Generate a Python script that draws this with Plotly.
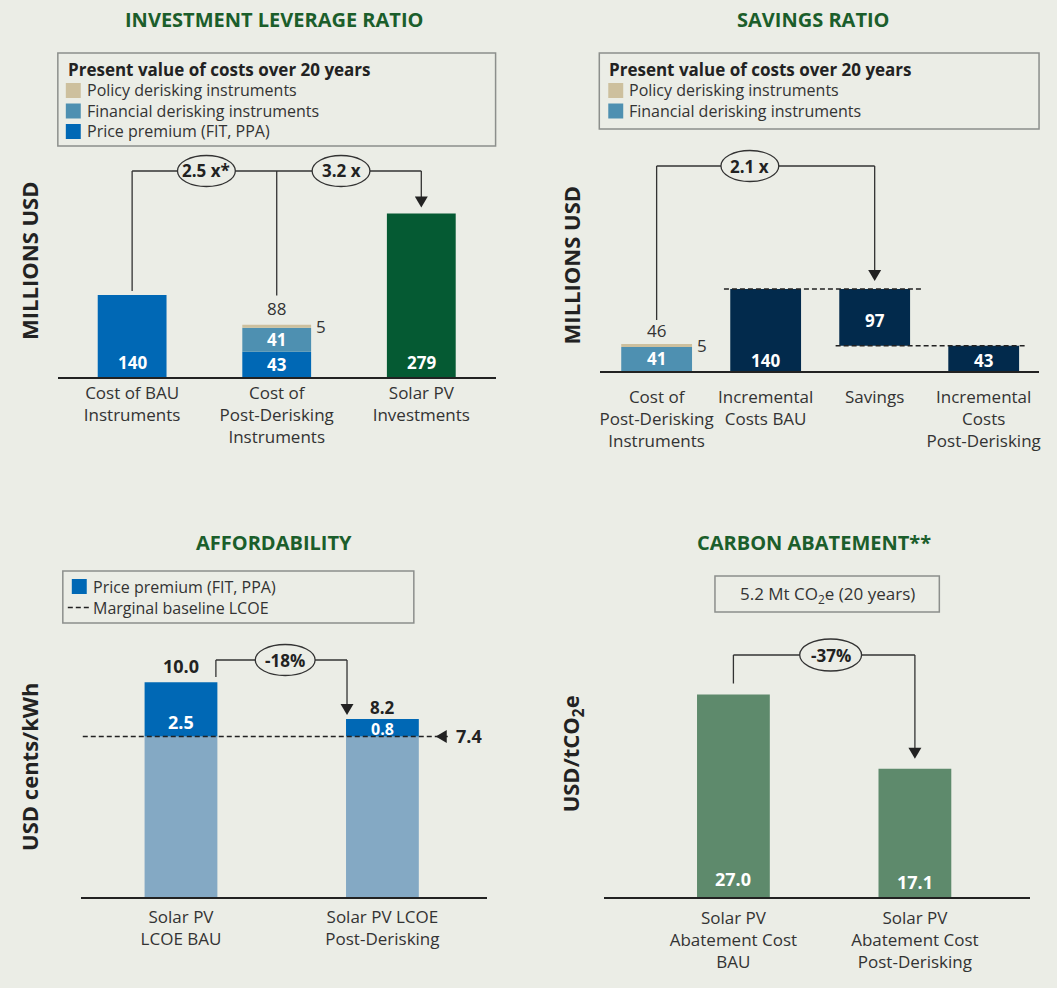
import plotly.graph_objects as go

W, H = 1057, 988
BG = "#EBEDE6"
TXT = "#333333"
DARK = "#222222"
GREEN_T = "#1B5E2B"
C_POLICY = "#CDC09E"
C_FIN = "#4E90B1"
C_PREM = "#0068B5"
C_SOLAR = "#055A33"
C_NAVY = "#022A4C"
C_LCOE = "#84A9C4"
C_ABATE = "#5E8A6C"
FONT = "Open Sans"

# ---------------- data ----------------
lev_categories = ["Cost of BAU<br>Instruments", "Cost of<br>Post-Derisking<br>Instruments",
                  "Solar PV<br>Investments"]
lev_price_premium = [140, 43]      # BAU instruments, post-derisking instruments
lev_financial = [41]               # post-derisking instruments
lev_policy = [5]                   # post-derisking instruments
lev_post_total = 88
lev_investment = 279
lev_ratios = ["2.5 x*", "3.2 x"]

sav_categories = ["Cost of<br>Post-Derisking<br>Instruments", "Incremental<br>Costs BAU", "Savings",
                  "Incremental<br>Costs<br>Post-Derisking"]
sav_financial = 41
sav_policy = 5
sav_total = 46
sav_incremental = [140, 43]        # BAU, post-derisking
sav_savings = 97
sav_ratio = "2.1 x"

aff_categories = ["Solar PV<br>LCOE BAU", "Solar PV LCOE<br>Post-Derisking"]
aff_baseline = 7.4
aff_premium = [2.5, 0.8]
aff_total = [10.0, 8.2]
aff_change = "-18%"

abate_categories = ["Solar PV<br>Abatement Cost<br>BAU", "Solar PV<br>Abatement Cost<br>Post-Derisking"]
abate_values = [27.0, 17.1]
abate_change = "-37%"
abate_total_text = "5.2 Mt CO<sub>2</sub>e (20 years)"

# ---------------- layout geometry (pixels) ----------------
PAN = {
    "lev": dict(n="", left=57, right=496, base=377, top=145, ppu=0.586, x0px=131.5, step=145.0, bw=69, so=0),
    "sav": dict(n="2", left=601, right=1041, base=371, top=140, ppu=0.586, x0px=657.5, step=109.33, bw=71, so=10),
    "aff": dict(n="3", left=80, right=487, base=897, top=630, ppu=21.7, x0px=180.5, step=202.0, bw=73, so=4),
    "abt": dict(n="4", left=605, right=1032, base=897, top=630, ppu=7.5, x0px=734.5, step=182.0, bw=73, so=5),
}


def xd(p, xpix):
    return (xpix - p["x0px"]) / p["step"]


def yd(p, ypix):
    return (p["base"] - ypix) / p["ppu"]


def bw(p):
    return p["bw"] / p["step"]


def px(x):
    return x / W


def py(y):
    return 1 - y / H


shapes = []
annotations = []


def refs(p):
    return dict(xref="x" + p["n"], yref="y" + p["n"])


def seg(p, x0, y0, x1, y1, dash=None, width=1.3, color=TXT):
    shapes.append(dict(type="line", x0=x0, y0=y0, x1=x1, y1=y1,
                       line=dict(color=color, width=width, dash=dash), **refs(p)))


def oval(p, cx, cy, wpx, hpx, text):
    w = wpx / p["step"] / 2
    h = hpx / p["ppu"] / 2
    shapes.append(dict(type="circle", x0=cx - w, x1=cx + w, y0=cy - h, y1=cy + h,
                       line=dict(color=TXT, width=1.3), fillcolor=BG, **refs(p)))
    annotations.append(dict(text=f"<b>{text}</b>", x=cx, y=cy, showarrow=False,
                            xanchor="center", yanchor="middle",
                            font=dict(size=17, color=DARK), **refs(p)))


def arrow_down(p, x, ytip, wpx=13, hpx=11):
    a = wpx / 2 / p["step"]
    h = hpx / p["ppu"]
    shapes.append(dict(type="path", path=f"M {x - a},{ytip + h} L {x + a},{ytip + h} L {x},{ytip} Z",
                       fillcolor=DARK, line=dict(width=0), **refs(p)))


def arrow_left(p, xtip, y, wpx=11, hpx=13):
    a = wpx / p["step"]
    h = hpx / 2 / p["ppu"]
    shapes.append(dict(type="path", path=f"M {xtip + a},{y - h} L {xtip + a},{y + h} L {xtip},{y} Z",
                       fillcolor=DARK, line=dict(width=0), **refs(p)))


def dlabel(p, text, x, y, yshift=0, color="white", bold=True, size=17, xanchor="center", **kw):
    t = f"<b>{text}</b>" if bold else text
    annotations.append(dict(text=t, x=x, y=y, yshift=yshift, showarrow=False,
                            xanchor=xanchor, yanchor="middle", borderpad=0,
                            font=dict(size=size, color=color), **refs(p), **kw))


def plabel(text, x, y, size=17, color=TXT, bold=False, xanchor="center", **kw):
    t = f"<b>{text}</b>" if bold else text
    annotations.append(dict(text=t, x=px(x), y=py(y), xref="paper", yref="paper", showarrow=False,
                            xanchor=xanchor, yanchor="middle", borderpad=0,
                            font=dict(size=size, color=color), **kw))


def box(x0, y0, x1, y1):
    shapes.append(dict(type="rect", xref="paper", yref="paper", x0=px(x0), x1=px(x1), y0=py(y1), y1=py(y0),
                       line=dict(color="#8C8F8C", width=1.5), fillcolor="rgba(0,0,0,0)"))


def swatch(x0, yc, color, size=15):
    shapes.append(dict(type="rect", xref="paper", yref="paper", x0=px(x0), x1=px(x0 + size),
                       y0=py(yc + size / 2), y1=py(yc - size / 2), line=dict(width=0), fillcolor=color))


fig = go.Figure()


def bar(p, x, y, color, base=None):
    fig.add_trace(go.Bar(x=x, y=y, base=base, width=bw(p), marker=dict(color=color, line=dict(width=0)),
                         opacity=1, xaxis="x" + p["n"], yaxis="y" + p["n"], showlegend=False,
                         hoverinfo="skip"))


# ---------------- panel 1 : investment leverage ----------------
p = PAN["lev"]
bar(p, [0, 1], lev_price_premium, C_PREM)
bar(p, [1], lev_financial, C_FIN, base=[lev_price_premium[1]])
bar(p, [1], lev_policy, C_POLICY, base=[lev_price_premium[1] + lev_financial[0]])
bar(p, [2], [lev_investment], C_SOLAR)
post_top = lev_price_premium[1] + lev_financial[0] + lev_policy[0]
dlabel(p, lev_price_premium[0], 0, 0, yshift=15)
dlabel(p, lev_price_premium[1], 1, lev_price_premium[1] / 2)
dlabel(p, lev_financial[0], 1, lev_price_premium[1] + lev_financial[0] / 2)
dlabel(p, lev_investment, 2, 0, yshift=15)
dlabel(p, lev_post_total, 1, post_top, yshift=16, color=TXT, bold=False)
dlabel(p, lev_policy[0], 1 + bw(p) / 2, post_top - lev_policy[0] / 2, color=TXT, bold=False,
       xanchor="left", xshift=4)
lvl = yd(p, 171)
seg(p, 0, lev_price_premium[0] + 4 / p["ppu"], 0, lvl)
seg(p, 0, lvl, 2, lvl)
seg(p, 1, lvl, 1, lev_post_total + 30 / p["ppu"])
seg(p, 2, lvl, 2, lev_investment + 16 / p["ppu"])
arrow_down(p, 2, lev_investment + 6 / p["ppu"])
oval(p, xd(p, 206), lvl, 58, 31, lev_ratios[0])
oval(p, xd(p, 341), lvl, 58, 31, lev_ratios[1])

# ---------------- panel 2 : savings ratio ----------------
p = PAN["sav"]
bar(p, [0], [sav_financial], C_FIN)
bar(p, [0], [sav_policy], C_POLICY, base=[sav_financial])
bar(p, [1, 3], sav_incremental, C_NAVY)
bar(p, [2], [sav_savings], C_NAVY, base=[sav_incremental[1]])
dlabel(p, sav_financial, 0, sav_financial / 2)
dlabel(p, sav_total, 0, sav_financial + sav_policy, yshift=14, color=TXT, bold=False)
dlabel(p, sav_policy, bw(p) / 2, sav_financial + sav_policy / 2, color=TXT, bold=False,
       xanchor="left", xshift=4)
dlabel(p, sav_incremental[0], 1, 0, yshift=11)
dlabel(p, sav_savings, 2, sav_incremental[1] + sav_savings / 2, yshift=-3)
dlabel(p, sav_incremental[1], 3, 0, yshift=11)
seg(p, xd(p, 725), sav_incremental[0], xd(p, 923), sav_incremental[0], dash="5px,3px", width=1.5, color=DARK)
seg(p, xd(p, 837), sav_incremental[1], xd(p, 1029), sav_incremental[1], dash="5px,3px", width=1.5, color=DARK)
lvl = yd(p, 166)
seg(p, 0, sav_total + 24 / p["ppu"], 0, lvl)
seg(p, 0, lvl, 2, lvl)
seg(p, 2, lvl, 2, sav_incremental[0] + 17 / p["ppu"])
arrow_down(p, 2, sav_incremental[0] + 8 / p["ppu"])
oval(p, xd(p, 751), lvl, 58, 31, sav_ratio)

# ---------------- panel 3 : affordability ----------------
p = PAN["aff"]
bar(p, [0, 1], [aff_baseline, aff_baseline], C_LCOE)
bar(p, [0, 1], aff_premium, C_PREM, base=[aff_baseline, aff_baseline])
dlabel(p, f"{aff_total[0]:.1f}", 0, aff_total[0], yshift=14, color=DARK, size=18)
dlabel(p, f"{aff_total[1]:.1f}", 1, aff_total[1], yshift=12, color=DARK, size=17)
dlabel(p, f"{aff_premium[0]:.1f}", 0, aff_baseline, yshift=14, size=18)
dlabel(p, f"{aff_premium[1]:.1f}", 1, aff_baseline, yshift=7, size=16)
seg(p, xd(p, 82), aff_baseline, xd(p, 451), aff_baseline, dash="5px,3px", width=1.5, color=DARK)
arrow_left(p, xd(p, 436), aff_baseline)
dlabel(p, f"{aff_baseline:.1f}", xd(p, 455), aff_baseline, color=DARK, xanchor="left", size=18)
lvl = yd(p, 660)
xl = bw(p) / 2 - 1.5 / p["step"]
xr = 1 - bw(p) / 2 + 1 / p["step"]
seg(p, xl, aff_total[0] + 3 / p["ppu"], xl, lvl)
seg(p, xl, lvl, xr, lvl)
seg(p, xr, lvl, xr, aff_total[1] + 14 / p["ppu"])
arrow_down(p, xr, aff_total[1] + 4 / p["ppu"])
oval(p, xd(p, 285), lvl, 60, 31, aff_change)

# ---------------- panel 4 : carbon abatement ----------------
p = PAN["abt"]
bar(p, [0, 1], abate_values, C_ABATE)
dlabel(p, f"{abate_values[0]:.1f}", 0, 0, yshift=18, size=18)
dlabel(p, f"{abate_values[1]:.1f}", 1, 0, yshift=15, size=18)
lvl = yd(p, 655)
seg(p, 0, abate_values[0] + 11 / p["ppu"], 0, lvl)
seg(p, 0, lvl, 1, lvl)
seg(p, 1, lvl, 1, abate_values[1] + 20 / p["ppu"])
arrow_down(p, 1, abate_values[1] + 10 / p["ppu"])
oval(p, xd(p, 832), lvl, 62, 32, abate_change)

# ---------------- titles, legends, axis titles ----------------
for text, x, y in [("INVESTMENT LEVERAGE RATIO", 274, 20), ("SAVINGS RATIO", 815, 20),
                   ("AFFORDABILITY", 274, 542), ("CARBON ABATEMENT**", 815, 542)]:
    plabel(text, x, y, size=20, color=GREEN_T, bold=True)

for text, x, y in [("MILLIONS USD", 28, 261), ("MILLIONS USD", 572, 265),
                   ("USD cents/kWh", 28, 767), ("USD/tCO<sub>2</sub>e", 573, 754)]:
    plabel(text, x, y, size=22, color=DARK, bold=True, textangle=-90)

# legend 1
box(57, 53, 496, 146)
plabel("Present value of costs over 20 years", 66, 69, size=17, color=DARK, bold=True, xanchor="left")
for (lab, col), yc in zip([("Policy derisking instruments", C_POLICY),
                           ("Financial derisking instruments", C_FIN),
                           ("Price premium (FIT, PPA)", C_PREM)], [90.5, 111, 131.5]):
    swatch(65, yc, col)
    plabel(lab, 85, yc, size=16, xanchor="left")
# legend 2
box(600, 53, 1041, 129)
plabel("Present value of costs over 20 years", 609, 69, size=17, color=DARK, bold=True, xanchor="left")
for (lab, col), yc in zip([("Policy derisking instruments", C_POLICY),
                           ("Financial derisking instruments", C_FIN)], [90.5, 111]):
    swatch(609, yc, col)
    plabel(lab, 629, yc, size=16, xanchor="left")
# legend 3
box(62, 571, 414, 623)
swatch(71, 586.5, C_PREM)
plabel("Price premium (FIT, PPA)", 91, 586.5, size=16, xanchor="left")
shapes.append(dict(type="line", xref="paper", yref="paper", x0=px(67), x1=px(90), y0=py(607.5), y1=py(607.5),
                   line=dict(color=DARK, width=1.5, dash="5px,3px")))
plabel("Marginal baseline LCOE", 91, 607.5, size=16, xanchor="left")
# box 4
box(716, 576, 941, 612)
plabel(abate_total_text, 829, 594, size=17)

# ---------------- axes ----------------
cats = {"lev": lev_categories, "sav": sav_categories, "aff": aff_categories, "abt": abate_categories}
layout_axes = {}
for key, p in PAN.items():
    n = p["n"]
    layout_axes["xaxis" + n] = dict(
        domain=[px(p["left"]), px(p["right"])],
        range=[xd(p, p["left"]), xd(p, p["right"])],
        anchor="y" + n, showline=True, linecolor=DARK, linewidth=1.5,
        tickmode="array", tickvals=list(range(len(cats[key]))), ticktext=cats[key],
        ticks="", showgrid=False, zeroline=False, fixedrange=True, ticklabelstandoff=p["so"],
        tickfont=dict(size=17, color=TXT, family=FONT))
    layout_axes["yaxis" + n] = dict(
        domain=[py(p["base"]), py(p["top"])],
        range=[0, yd(p, p["top"])], anchor="x" + n, visible=False, fixedrange=True)

fig.update_layout(
    width=W, height=H, margin=dict(l=0, r=0, t=0, b=0),
    paper_bgcolor=BG, plot_bgcolor=BG, barmode="overlay", showlegend=False,
    font=dict(family=FONT, color=TXT), shapes=shapes, annotations=annotations,
    **layout_axes)

fig.write_html("out.html", config={"displayModeBar": False},
               post_script="document.body.style.margin='0px';")
